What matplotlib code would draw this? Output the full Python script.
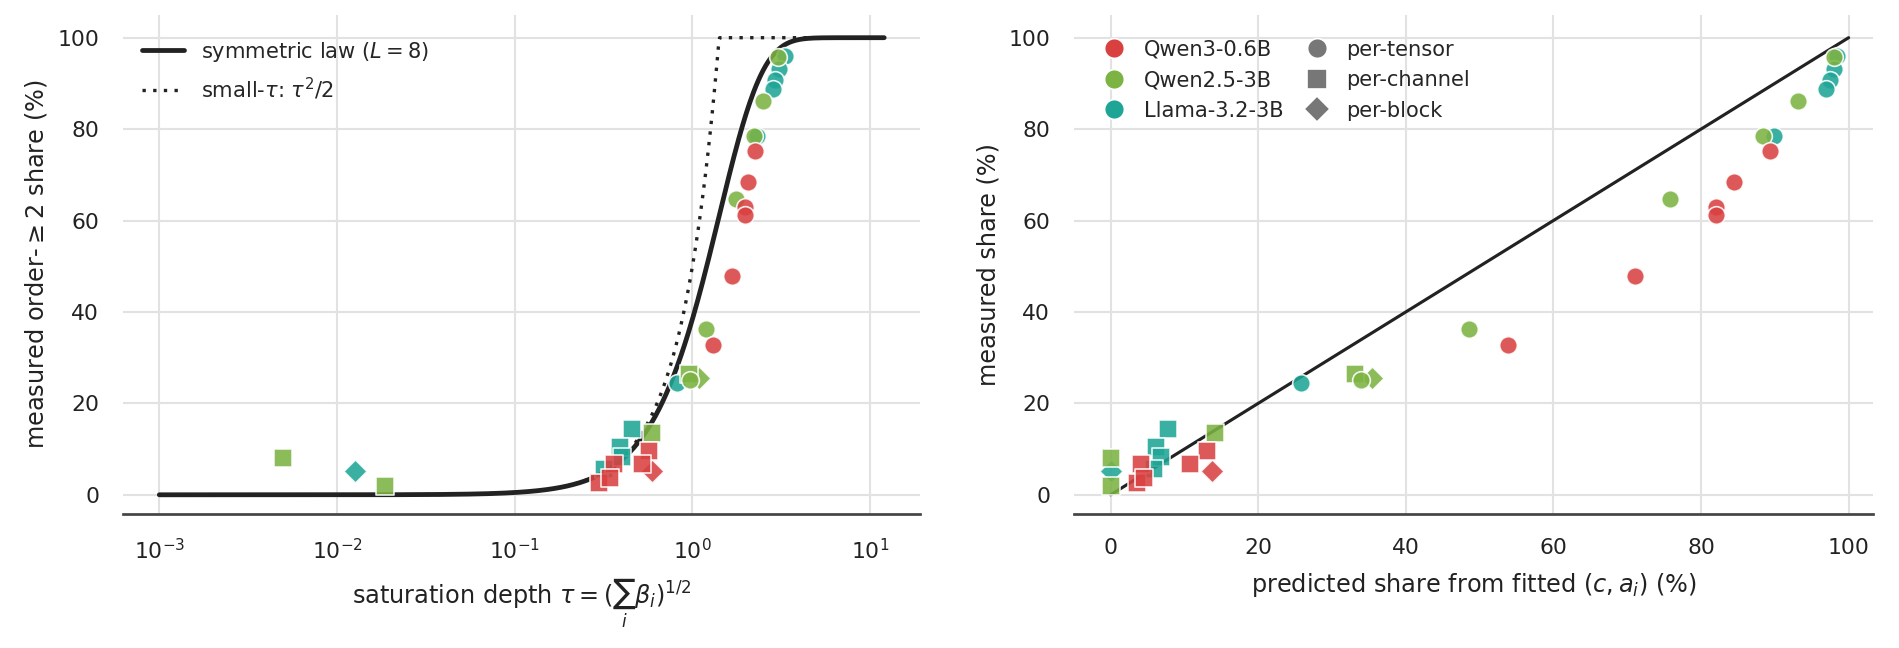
import numpy as np
import matplotlib
matplotlib.use("Agg")
import matplotlib.pyplot as plt
from matplotlib.lines import Line2D
import seaborn as sns

# ---------------- data ----------------
models = ["Qwen3-0.6B", "Qwen2.5-3B", "Llama-3.2-3B"]
model_colors = ["#d94141", "#7cb342", "#1fa596"]
grans = ["per-tensor", "per-channel", "per-block"]
gran_markers = ["o", "s", "D"]

# Qwen3-0.6B
q3_tensor_tau = [2.24, 2.05, 1.97, 1.97, 1.67, 1.31]
q3_tensor_pred = [89.3, 84.5, 82.0, 82.0, 71.0, 53.8]
q3_tensor_meas = [75.2, 68.4, 62.9, 61.2, 47.9, 32.7]
q3_channel_tau = [0.568, 0.361, 0.521, 0.297, 0.343]
q3_channel_pred = [13.0, 4.1, 10.7, 3.6, 4.5]
q3_channel_meas = [9.6, 6.7, 6.7, 2.6, 3.6]
q3_block_tau = [0.594]
q3_block_pred = [13.7]
q3_block_meas = [5.3]

# Qwen2.5-3B
q25_tensor_tau = [3.05, 2.48, 2.21, 1.77, 1.20, 0.966]
q25_tensor_pred = [98.0, 93.2, 88.4, 75.8, 48.5, 33.9]
q25_tensor_meas = [95.8, 86.1, 78.6, 64.7, 36.2, 25.1]
q25_channel_tau = [0.00495, 0.0186, 0.594, 0.953]
q25_channel_pred = [0.1, 0.0, 14.2, 33.1]
q25_channel_meas = [8.0, 2.0, 13.5, 26.4]
q25_block_tau = [1.085]
q25_block_pred = [35.4]
q25_block_meas = [25.6]

# Llama-3.2-3B
ll_tensor_tau = [3.33, 3.09, 2.93, 2.84, 2.31, 0.82]
ll_tensor_pred = [98.4, 98.0, 97.5, 96.9, 89.9, 25.8]
ll_tensor_meas = [96.0, 93.2, 90.7, 88.7, 78.6, 24.5]
ll_channel_tau = [0.458, 0.391, 0.403, 0.317]
ll_channel_pred = [7.8, 6.2, 6.8, 5.9]
ll_channel_meas = [14.5, 10.4, 8.2, 5.6]
ll_block_tau = [0.01267]
ll_block_pred = [0.0]
ll_block_meas = [5.3]

L = 8
tau_min, tau_max = 1e-3, 12.0

groups = {
    "Qwen3-0.6B": {
        "per-tensor": (q3_tensor_tau, q3_tensor_pred, q3_tensor_meas),
        "per-channel": (q3_channel_tau, q3_channel_pred, q3_channel_meas),
        "per-block": (q3_block_tau, q3_block_pred, q3_block_meas),
    },
    "Qwen2.5-3B": {
        "per-tensor": (q25_tensor_tau, q25_tensor_pred, q25_tensor_meas),
        "per-channel": (q25_channel_tau, q25_channel_pred, q25_channel_meas),
        "per-block": (q25_block_tau, q25_block_pred, q25_block_meas),
    },
    "Llama-3.2-3B": {
        "per-tensor": (ll_tensor_tau, ll_tensor_pred, ll_tensor_meas),
        "per-channel": (ll_channel_tau, ll_channel_pred, ll_channel_meas),
        "per-block": (ll_block_tau, ll_block_pred, ll_block_meas),
    },
}

# ---------------- style ----------------
sns.set_theme(style="whitegrid")
plt.rcParams["font.family"] = ["DejaVu Sans"]
plt.rcParams["grid.color"] = "#e2e2e2"
plt.rcParams["grid.linewidth"] = 1.0

fig = plt.figure(figsize=(12.66, 4.32), dpi=150)
ax1 = fig.add_axes([0.0648, 0.2068, 0.4197, 0.7703])
ax2 = fig.add_axes([0.5657, 0.2068, 0.4206, 0.7703])

TICK_FS = 10.5
LABEL_FS = 11.5
LEG_FS = 10.1
PAD = 11.5
YLO, YHI = -4.2, 105

# ---------------- left panel ----------------
tau = np.logspace(np.log10(tau_min), np.log10(tau_max), 600)
sym = 100 * (1 - (1 + tau**2 / (2 * L)) ** (-L))
small = 100 * np.minimum(tau**2 / 2, 1.0)
ax1.plot(tau, small, ls=(0, (1, 2.2)), color="#222222", lw=1.6, zorder=2,
         label=r"small-$\tau$: $\tau^2/2$")
ax1.plot(tau, sym, color="#222222", lw=2.3, zorder=3, solid_capstyle="round",
         label=r"symmetric law ($L=8$)")
ax1.set_xscale("log")

draw_order = ["Llama-3.2-3B", "Qwen2.5-3B", "Qwen3-0.6B"]
marker_order = ["per-block", "per-channel", "per-tensor"]
z = 4
for m in draw_order:
    c = model_colors[models.index(m)]
    for g in marker_order:
        mk = gran_markers[grans.index(g)]
        t, p, meas = groups[m][g]
        s = 62 if mk == "D" else 72
        ax1.scatter(t, meas, s=s, marker=mk, color=c, alpha=0.88,
                    edgecolor="white", linewidth=0.8, zorder=z)
        ax2.scatter(p, meas, s=s, marker=mk, color=c, alpha=0.88,
                    edgecolor="white", linewidth=0.8, zorder=z)
        z += 1

ax1.set_xlim(10 ** -3.204, 10 ** 1.281)
ax1.set_ylim(YLO, YHI)
ax1.set_yticks([0, 20, 40, 60, 80, 100])
ax1.set_xticks([1e-3, 1e-2, 1e-1, 1e0, 1e1])
ax1.minorticks_off()
ax1.set_xlabel(r"saturation depth $\tau=(\sum_i \beta_i)^{1/2}$", fontsize=LABEL_FS,
               labelpad=6.5)
ax1.set_ylabel(r"measured order-$\geq 2$ share (%)", fontsize=LABEL_FS)
h, l = ax1.get_legend_handles_labels()
ax1.legend([h[1], h[0]], [l[1], l[0]], loc="upper left", frameon=False,
           fontsize=LEG_FS, bbox_to_anchor=(0.0, 0.988), labelspacing=0.55)

# ---------------- right panel ----------------
diag = np.array([0.0, 100.0])
ax2.plot(diag, diag, color="#222222", lw=1.5, zorder=2)
ax2.set_xlim(-4.92, 103.3)
ax2.set_ylim(YLO, YHI)
ax2.set_yticks([0, 20, 40, 60, 80, 100])
ax2.set_xticks([0, 20, 40, 60, 80, 100])
ax2.set_xlabel(r"predicted share from fitted $(c, a_i)$ (%)", fontsize=LABEL_FS,
               labelpad=6.5)
ax2.set_ylabel("measured share (%)", fontsize=LABEL_FS)

handles = []
labels = []
for m, c in zip(models, model_colors):
    handles.append(Line2D([], [], ls="none", marker="o", markersize=9.5,
                          markerfacecolor=c, markeredgecolor="white", markeredgewidth=0.8))
    labels.append(m)
for g, mk in zip(grans, gran_markers):
    handles.append(Line2D([], [], ls="none", marker=mk, markersize=9.5 if mk != "D" else 8.5,
                          markerfacecolor="#777777", markeredgecolor="white", markeredgewidth=0.8))
    labels.append(g)
ax2.legend(handles, labels, ncol=2, loc="upper left", frameon=False,
           fontsize=LEG_FS, handletextpad=0.4, columnspacing=0.6,
           labelspacing=0.5, bbox_to_anchor=(0.0, 0.988))

for ax in (ax1, ax2):
    for side in ("left", "right", "top"):
        ax.spines[side].set_visible(False)
    ax.spines["bottom"].set_color("#444444")
    ax.spines["bottom"].set_linewidth(1.3)
    ax.tick_params(axis="both", labelsize=TICK_FS, colors="#222222", length=0, pad=PAD)
    ax.xaxis.label.set_color("#222222")
    ax.yaxis.label.set_color("#222222")

fig.savefig("out.png", dpi=150)
